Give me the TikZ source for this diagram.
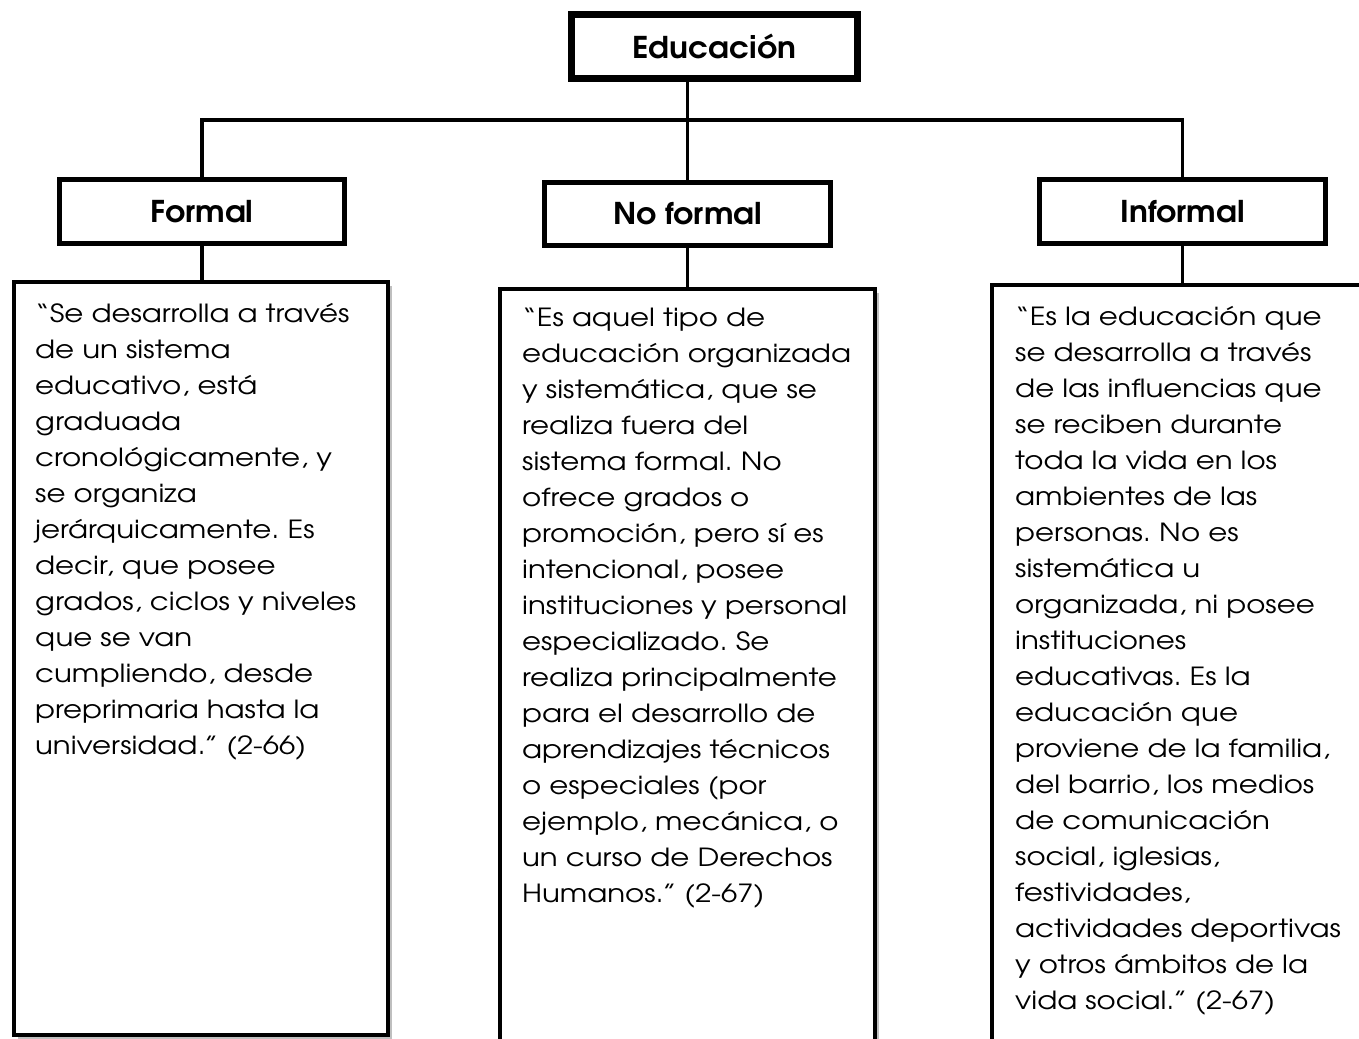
\documentclass[tikz,border=0pt]{standalone}
\usepackage{fontspec}
\setmainfont{texgyreadventor}[Extension=.otf, UprightFont=*-regular, BoldFont=*-bold, ItalicFont=*-italic, BoldItalicFont=*-bolditalic, UprightFeatures={FakeStretch=1.17}, BoldFeatures={FakeStretch=1.05}]
\usetikzlibrary{shadows}
\frenchspacing
\newcommand\tl[1]{\hbox{#1}}
\newcommand\txtblock[1]{\vtop{\baselineskip=36pt\lineskiplimit=-100pt\lineskip=0pt #1}}
\tikzset{
  head/.style={draw=black, line width=5pt, fill=white, inner sep=0pt, font=\fontsize{30}{32}\selectfont\bfseries},
  top/.style={head, line width=7pt},
  txtbox/.style={draw=black, line width=3.8pt, fill=white, inner sep=0pt,
    drop shadow={shadow xshift=4pt, shadow yshift=-4pt, fill=black!45, opacity=0.55}},
  body/.style={anchor=base west, inner sep=0pt, font=\fontsize{25}{36}\selectfont},
  conn/.style={draw=black, line width=3.8pt}
}
\begin{document}
\begin{tikzpicture}[x=1pt, y=-1pt]
\useasboundingbox (0,0) rectangle (1359,1038);
\clip (0,0) rectangle (1359,1038);
\fill[white] (0,0) rectangle (1359,1038);
% text boxes
\node[txtbox, minimum width=374pt, minimum height=753pt] (tL) at (201,658.5) {};
\node[txtbox, minimum width=375pt, minimum height=780pt] (tM) at (687.5,679) {};
\node[txtbox, minimum width=400pt, minimum height=790pt] (tR) at (1192,680) {};
% headings
\node[top, minimum width=286pt, minimum height=64pt] (edu) at (714.5,46.5) {Educación};
\node[head, minimum width=285pt, minimum height=64pt] (formal) at (202,211.5) {Formal};
\node[head, minimum width=286pt, minimum height=63pt] (nf) at (687.5,214) {No formal};
\node[head, minimum width=286pt, minimum height=64pt] (inf) at (1182.5,211.5) {Informal};
% connectors
\coordinate (bar) at (687.5,120);
\draw[conn] (edu.south -| nf.north) -- (nf.north);
\draw[conn] (formal.north) |- (bar) -| (inf.north);
\draw[conn] (formal.south) -- (formal.south |- tL.north);
\draw[conn] (nf.south) -- (nf.south |- tM.north);
\draw[conn] (inf.south) -- (inf.south |- tR.north);
% body texts
\node[body] (bL) at (35,322) {\txtblock{%
\tl{“Se desarrolla a través}
\tl{de un sistema}
\tl{educativo, está}
\tl{graduada}
\tl{cronológicamente, y}
\tl{se organiza}
\tl{jerárquicamente. Es}
\tl{decir, que posee}
\tl{grados, ciclos y niveles}
\tl{que se van}
\tl{cumpliendo, desde}
\tl{preprimaria hasta la}
\tl{universidad.” (2-66)}}};
\node[body] (bM) at (522,326) {\txtblock{%
\tl{“Es aquel tipo de}
\tl{educación organizada}
\tl{y sistemática, que se}
\tl{realiza fuera del}
\tl{sistema formal. No}
\tl{ofrece grados o}
\tl{promoción, pero sí es}
\tl{intencional, posee}
\tl{instituciones y personal}
\tl{especializado. Se}
\tl{realiza principalmente}
\tl{para el desarrollo de}
\tl{aprendizajes técnicos}
\tl{o especiales (por}
\tl{ejemplo, mecánica, o}
\tl{un curso de Derechos}
\tl{Humanos.” (2-67)}}};
\node[body] (bR) at (1015,325) {\txtblock{%
\tl{“Es la educación que}
\tl{se desarrolla a través}
\tl{de las influencias que}
\tl{se reciben durante}
\tl{toda la vida en los}
\tl{ambientes de las}
\tl{personas. No es}
\tl{sistemática u}
\tl{organizada, ni posee}
\tl{instituciones}
\tl{educativas. Es la}
\tl{educación que}
\tl{proviene de la familia,}
\tl{del barrio, los medios}
\tl{de comunicación}
\tl{social, iglesias,}
\tl{festividades,}
\tl{actividades deportivas}
\tl{y otros ámbitos de la}
\tl{vida social.” (2-67)}}};
\end{tikzpicture}
\end{document}
